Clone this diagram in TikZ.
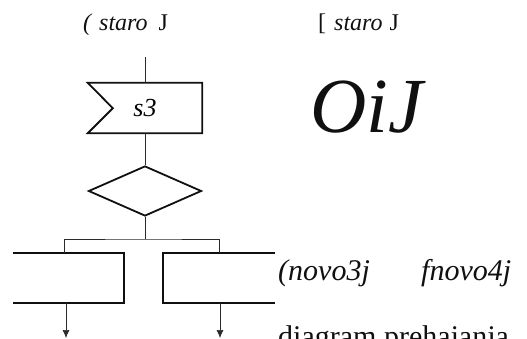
\documentclass[tikz,border=0pt]{standalone}
\usepackage{fontspec}
\setmainfont{Liberation Serif}
\usetikzlibrary{arrows.meta,positioning,shapes.geometric}
\definecolor{ink}{HTML}{101010}
\definecolor{wire}{HTML}{2A2A2A}

\begin{document}
\begin{tikzpicture}[x=1pt,y=-1pt,
    boxline/.style={ink,line width=1.8pt},
    wireline/.style={wire,line width=0.7pt},
    txt/.style={anchor=base west,inner sep=0pt,ink},
    blank/.style={inner sep=0pt,minimum height=50pt}]
  \useasboundingbox (0,0) rectangle (527,338);
  \node[txt,font=\fontsize{24}{26}\selectfont] (old1) at (83,30)
      {\textit{(\hspace{8pt}staro}\hspace{11pt}J};
  \node[txt,font=\fontsize{24}{26}\selectfont] (old2) at (318,30)
      {[\hspace{8pt}\textit{staro}\hspace{7pt}J};
  \coordinate (in) at (145,57);
  \node[blank,minimum width=114pt,font=\fontsize{26}{28}\selectfont\itshape] (s3) at (145,108) {s3};
  \draw[boxline] (s3.north west) -- (s3.north east) -- (s3.south east)
      -- (s3.south west) -- ++(25,-25) -- cycle;
  \draw[wireline] (in) -- (s3.north);
  \node[diamond,draw,boxline,inner sep=0pt,minimum width=113pt,minimum height=50pt] (dec) at (145,191) {};
  \draw[wireline] (s3.south) -- (dec.north);
  \coordinate (split) at (145,239);
  \draw[wireline] (dec.south) -- (split);
  \node[blank,minimum width=111pt] (left) at (68.5,278) {};
  \node[blank,minimum width=112pt] (right) at (219,278) {};
  \draw[boxline] (left.north west) -- (left.north east) -- (left.south east) -- (left.south west);
  \draw[boxline] (right.north east) -- (right.north west) -- (right.south west) -- (right.south east);
  \draw[wireline] ([xshift=-4.5pt]left.north) |- (split) -| (right.north);
  \coordinate (outl) at (66,338);
  \coordinate (outr) at (220,338);
  \draw[wireline,-{Latex[length=8pt,width=7pt]}] ([xshift=-2.5pt]left.south) -- (outl);
  \draw[wireline,-{Latex[length=8pt,width=7pt]}] ([xshift=1pt]right.south) -- (outr);
  \node[txt,font=\fontsize{78}{80}\selectfont\itshape] (oij) at (310,132) {OiJ};
  \node[txt,font=\fontsize{30}{32}\selectfont\itshape] (new3) at (278,280) {(novo3j};
  \node[txt,font=\fontsize{30}{32}\selectfont\itshape] (new4) at (421,280) {fnovo4j};
  \node[txt,font=\fontsize{30}{32}\selectfont] (title) at (278,346) {diagram prehajanja};
\end{tikzpicture}
\end{document}
